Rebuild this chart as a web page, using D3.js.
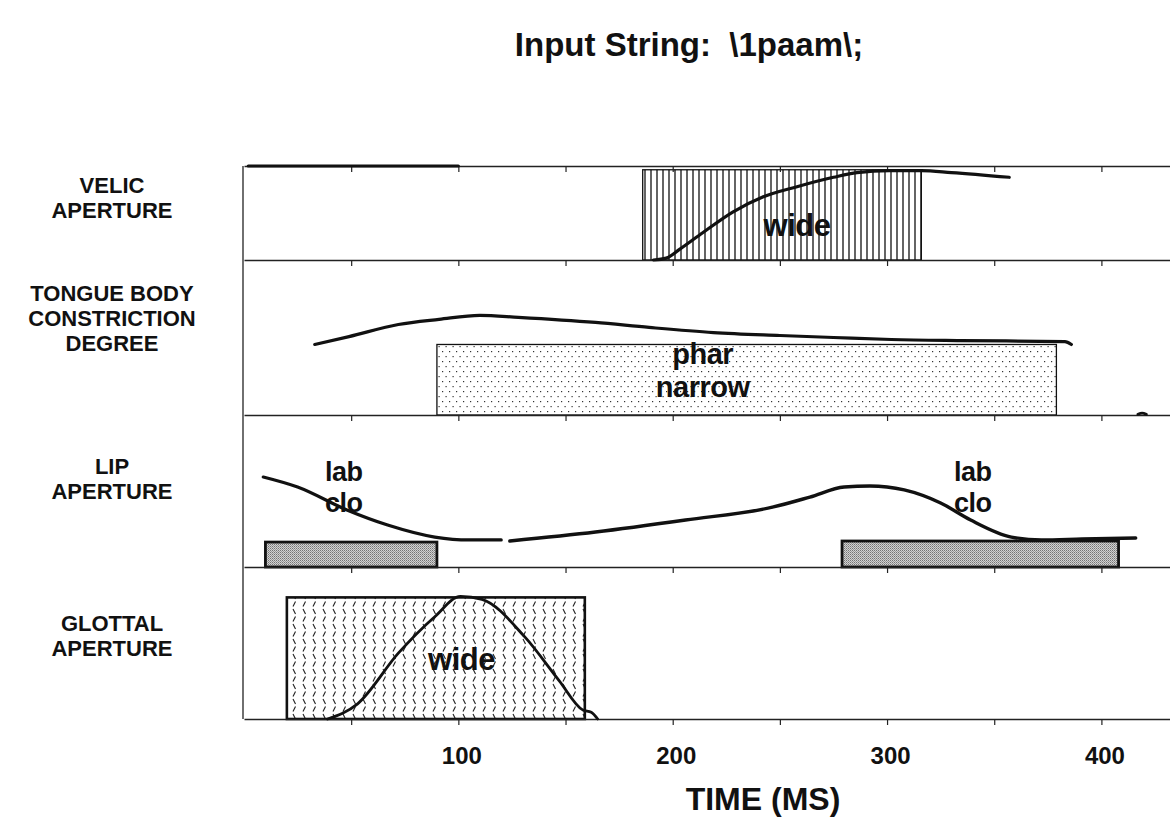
<!DOCTYPE html>
<html><head><meta charset="utf-8">
<script src="https://cdn.jsdelivr.net/npm/d3@7"></script>
<style>
body{margin:0;background:#fff}
svg{display:block}
text{font-family:"Liberation Sans",Arial,Helvetica,sans-serif;font-weight:bold;fill:#111}
</style>
</head><body><svg id="c" width="1170" height="819"></svg>
<script>
// ---------------- data ----------------
const titleText = "Input String:  \\1paam\\;";
const xTitle = "TIME (MS)";
const rowLabels = [["VELIC","APERTURE"],["TONGUE BODY","CONSTRICTION","DEGREE"],["LIP","APERTURE"],["GLOTTAL","APERTURE"]];
const tickValues = [50,100,150,200,250,300,350,400];
const tickLabels = [100,200,300,400];

// trajectories: [time ms, relative height within panel 0..1]
const velicEarly = [[2,1],[100,1]];
const velicCurve = [[191,0],[197,0.02],[203,0.11],[214,0.29],[228,0.51],[242,0.67],[258,0.78],[275,0.88],[286,0.93],[301,0.95],[316,0.95],[330,0.93],[357,0.88]];
const tongueCurve = [[33,0.455],[49,0.506],[72,0.584],[91,0.617],[110,0.643],[128,0.63],[164,0.597],[189,0.565],[219,0.532],[250,0.513],[275,0.5],[302,0.487],[334,0.48],[383,0.474],[386,0.455]];
const tongueLate = [[417,0.005],[419,0.012],[421,0.005]];
const lipCurveA = [[9,0.592],[25,0.526],[48,0.375],[67,0.276],[89,0.197],[105,0.178],[120,0.178]];
const lipCurveB = [[124,0.171],[164,0.23],[206,0.309],[247,0.395],[264,0.46],[280,0.526],[292,0.533],[308,0.507],[325,0.421],[339,0.309],[358,0.197],[372,0.178],[391,0.184],[416,0.191]];
const glottalCurve = [[39,0],[53,0.1],[72,0.433],[89,0.673],[101,0.807],[111,0.787],[131,0.54],[147,0.253],[158,0.06],[162,0.045],[165,0]];

// gestures (activation boxes): start, end (ms), height (0..1), label lines, label time
const velicGestures = [{start:186,end:316,height:0.96,label:["wide"],labelT:258}];
const tongueGestures = [{start:90,end:379,height:0.455,label:["phar","narrow"],labelT:214}];
const lipGestures = [{start:10,end:90,height:0.164,label:["lab","clo"],labelT:46.5},{start:279,end:408,height:0.171,label:["lab","clo"],labelT:340}];
const glottalGestures = [{start:20,end:159,height:0.8,label:["wide"],labelT:101.5}];

// ---------------- layout ----------------
const svg = d3.select("#c");
const x = d3.scaleLinear().domain([0,432]).range([244,1170]);
const panelTop = [166,260,415,567];
const panelBot = [260,415,567,719];
const ys = panelTop.map((t,i)=>d3.scaleLinear().domain([0,1]).range([panelBot[i],t]));

// patterns
const defs = svg.append("defs");
const pv = defs.append("pattern").attr("id","vhatch").attr("patternUnits","userSpaceOnUse").attr("width",6).attr("height",10);
pv.append("rect").attr("width",6).attr("height",10).attr("fill","#fff");
pv.append("line").attr("x1",3).attr("x2",3).attr("y1",0).attr("y2",10).attr("stroke","#111").attr("stroke-width",1.3);

const pd = defs.append("pattern").attr("id","dots").attr("patternUnits","userSpaceOnUse").attr("width",7).attr("height",10);
pd.append("rect").attr("width",7).attr("height",10).attr("fill","#fff");
pd.append("rect").attr("x",1).attr("y",1).attr("width",1.2).attr("height",1.2).attr("fill","#333");
pd.append("rect").attr("x",4.5).attr("y",6).attr("width",1.2).attr("height",1.2).attr("fill","#333");

const pg = defs.append("pattern").attr("id","gray").attr("patternUnits","userSpaceOnUse").attr("width",2).attr("height",2);
pg.append("rect").attr("width",2).attr("height",2).attr("fill","#d2d2d2");
pg.append("rect").attr("width",1).attr("height",1).attr("fill","#747474");
pg.append("rect").attr("x",1).attr("y",1).attr("width",1).attr("height",1).attr("fill","#999");

const ps = defs.append("pattern").attr("id","slash").attr("patternUnits","userSpaceOnUse").attr("width",10).attr("height",15);
ps.append("rect").attr("width",10).attr("height",15).attr("fill","#fff");
ps.append("line").attr("x1",3).attr("y1",6.5).attr("x2",5.5).attr("y2",1.5).attr("stroke","#222").attr("stroke-width",1.1);
ps.append("line").attr("x1",3).attr("y1",9).attr("x2",5.5).attr("y2",14).attr("stroke","#222").attr("stroke-width",1.1);

// title
svg.append("text").attr("x",689).attr("y",56).attr("text-anchor","middle")
  .attr("font-size",33).style("white-space","pre").text(titleText);

// gestures
const gestureSets = [[velicGestures,"url(#vhatch)",1.3],[tongueGestures,"url(#dots)",1.3],[lipGestures,"url(#gray)",2.8],[glottalGestures,"url(#slash)",2.6]];
gestureSets.forEach(([gs,fill,sw],i)=>{
  svg.append("g").selectAll("rect").data(gs).join("rect")
    .attr("x",d=>x(d.start)).attr("width",d=>x(d.end)-x(d.start))
    .attr("y",d=>ys[i](d.height)).attr("height",d=>ys[i](0)-ys[i](d.height))
    .attr("fill",fill).attr("stroke","#111").attr("stroke-width",sw);
});

// panel lines with ticks
panelTop.forEach((t,i)=>{
  svg.append("g").attr("transform",`translate(0,${t})`)
    .call(d3.axisBottom(x).tickValues(tickValues).tickSize(6).tickSizeOuter(0).tickFormat(""))
    .call(g=>g.select(".domain").attr("stroke","#222").attr("stroke-width",1.3))
    .call(g=>g.selectAll(".tick line").attr("stroke","#222").attr("stroke-width",1.2));
});
// bottom axis
svg.append("g").attr("transform",`translate(0,${panelBot[3]})`)
  .call(d3.axisBottom(x).tickValues(tickValues).tickSize(6).tickSizeOuter(0).tickPadding(22)
    .tickFormat(d=>tickLabels.includes(d)?d:""))
  .call(g=>g.select(".domain").attr("stroke","#222").attr("stroke-width",1.6))
  .call(g=>g.selectAll(".tick line").attr("stroke","#222").attr("stroke-width",1.2))
  .call(g=>g.selectAll(".tick text").attr("dx",3).attr("font-size",24).attr("font-family","Liberation Sans, Arial, sans-serif").attr("font-weight","bold").attr("fill","#111"));
// left border
svg.append("line").attr("x1",243).attr("x2",243).attr("y1",panelTop[0]).attr("y2",panelBot[3]).attr("stroke","#222").attr("stroke-width",1.3);

// trajectories
const line = i => d3.line().x(d=>x(d[0])).y(d=>ys[i](d[1])).curve(d3.curveMonotoneX);
const curves = [[velicEarly,0,3.2],[velicCurve,0,3.2],[tongueCurve,1,3.2],[tongueLate,1,2.8],[lipCurveA,2,3.2],[lipCurveB,2,3.4],[glottalCurve,3,2.8]];
curves.forEach(([data,i,sw])=>{
  svg.append("path").datum(data).attr("d",line(i)).attr("fill","none").attr("stroke","#111").attr("stroke-width",sw).attr("stroke-linecap","round");
});

// gesture labels
const labelY = [[236],[364,396.5],[481,511.5],[670]];
const labelSize = [31,29,27,31];
[velicGestures,tongueGestures,lipGestures,glottalGestures].forEach((gs,i)=>{
  gs.forEach(d=>{
    d.label.forEach((s,k)=>{
      svg.append("text").attr("x",x(d.labelT)).attr("y",labelY[i][k]).attr("text-anchor","middle")
        .attr("font-size",labelSize[i]).attr("letter-spacing",-0.5).text(s);
    });
  });
});

// row labels
const rowY = [[192.5,217.5],[301,326,351],[474,499],[631,656]];
rowLabels.forEach((lines,i)=>{
  lines.forEach((s,k)=>{
    svg.append("text").attr("x",112).attr("y",rowY[i][k]).attr("text-anchor","middle").attr("font-size",22).text(s);
  });
});

// axis title
svg.append("text").attr("x",763).attr("y",810).attr("text-anchor","middle").attr("font-size",32).text(xTitle);
</script>
</body></html>
